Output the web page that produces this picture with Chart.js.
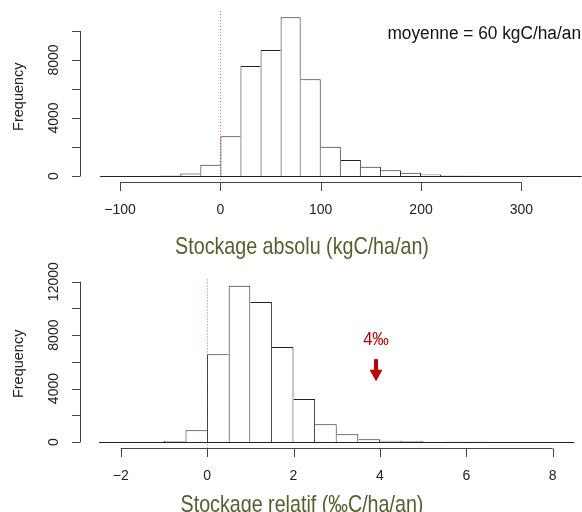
<!DOCTYPE html>
<html>
<head>
<meta charset="utf-8">
<script src="https://cdn.jsdelivr.net/npm/chart.js@4"></script>
<style>
  html, body { margin: 0; padding: 0; background: #fff; overflow: hidden; }
  #wrap { position: relative; width: 582px; height: 512px; }
  canvas { position: absolute; left: 0; top: 0; }
</style>
</head>
<body>
<div id="wrap">
  <canvas id="histo-absolu" width="582" height="512"></canvas>
  <canvas id="histo-relatif" width="582" height="512"></canvas>
</div>
<script>
// ── Stockage absolu (kgC/ha/an) ──────────────────────────────
const absBreaks = [-120,-100,-80,-60,-40,-20,0,20,40,60,80,100,120,140,160,180,200,220,240,260,280,300,320,340,360];
const absCounts = [0,0,5,40,170,780,2740,7590,8690,10950,6670,2020,1100,640,390,230,110,30,10,0,0,0,0,0];
const absTicksX = [-100,0,100,200,300];
const absTicksY = [0,2000,4000,6000,8000,10000];
const absLabelsY = ['0','','4000','','8000',''];

// ── Stockage relatif (‰C/ha/an) ──────────────────────────────
const relBreaks = [-2.5,-2,-1.5,-1,-0.5,0,0.5,1,1.5,2,2.5,3,3.5,4,4.5,5,5.5,6,6.5,7,7.5,8,8.5];
const relCounts = [0,0,5,80,880,6560,11700,10480,7110,3220,1320,580,200,90,50,25,15,10,5,0,0,0];
const relTicksX = [-2,0,2,4,6,8];
const relTicksY = [0,2000,4000,6000,8000,10000,12000];
const relLabelsY = ['0','','4000','','8000','','12000'];

const FONT  = "'Liberation Sans', Arial, sans-serif";
const VERT  = '#506229';
const ROUGE = '#c00000';

function histData(breaks, counts) {
  return counts.map((c, i) => ({ x: (breaks[i] + breaks[i + 1]) / 2, y: c }));
}

function fmtTick(v) {
  return v < 0 ? '\u2212' + Math.abs(v) : String(v);
}

// contour façon R : un seul trait entre deux barres voisines
function bordures(ctx) {
  const d = ctx.dataset.data, i = ctx.dataIndex, v = d[i].y;
  const prev = i > 0 ? d[i - 1].y : 0;
  const next = i < d.length - 1 ? d[i + 1].y : 0;
  return { top: 1, left: prev <= v ? 1 : 0, right: next < v ? 1 : 0, bottom: 0 };
}

// texte étroit (type Arial Narrow) : police normale compressée horizontalement
function texteEtroit(ctx, txt, x, by, taille, ratio, align) {
  ctx.save();
  ctx.translate(x, by);
  ctx.scale(ratio, 1);
  ctx.font = taille + 'px ' + FONT;
  ctx.textAlign = align || 'center';
  ctx.fillText(txt, 0, 0);
  ctx.restore();
}

const rStyle = {
  id: 'rStyle',
  beforeDatasetsDraw(chart, args, o) {
    const { ctx, chartArea: a, scales: { x } } = chart;
    // ligne pointillée rouge à zéro
    const x0 = Math.round(x.getPixelForValue(0)) + 0.5;
    ctx.save();
    ctx.strokeStyle = '#ff5a5a';
    ctx.lineWidth = 1;
    ctx.setLineDash([1, 2]);
    ctx.beginPath();
    ctx.moveTo(x0, a.top);
    ctx.lineTo(x0, a.bottom);
    ctx.stroke();
    ctx.restore();
  },
  afterDatasetsDraw(chart, args, o) {
    const { ctx, chartArea: a, scales: { x, y } } = chart;
    ctx.save();
    // ligne de base des classes vides
    const yb = Math.round(y.getPixelForValue(0)) + 0.5;
    ctx.strokeStyle = '#222';
    ctx.lineWidth = 1;
    ctx.beginPath();
    ctx.moveTo(x.getPixelForValue(o.breaks[0]), yb);
    ctx.lineTo(x.getPixelForValue(o.breaks[o.breaks.length - 1]), yb);
    ctx.stroke();

    // axe X
    ctx.strokeStyle = '#444';
    const ax = Math.round(a.bottom) + 0.5;
    ctx.beginPath();
    ctx.moveTo(x.getPixelForValue(o.ticksX[0]), ax);
    ctx.lineTo(x.getPixelForValue(o.ticksX[o.ticksX.length - 1]), ax);
    o.ticksX.forEach(t => {
      const px = Math.round(x.getPixelForValue(t)) + 0.5;
      ctx.moveTo(px, ax);
      ctx.lineTo(px, ax + 8.5);
    });
    ctx.stroke();
    ctx.fillStyle = '#222';
    ctx.font = '14px ' + FONT;
    ctx.textAlign = 'center';
    ctx.textBaseline = 'alphabetic';
    o.ticksX.forEach(t => ctx.fillText(fmtTick(t), x.getPixelForValue(t), ax + o.tickLabelDy));

    // axe Y
    const ay = Math.round(a.left) + 0.5;
    ctx.beginPath();
    ctx.moveTo(ay, y.getPixelForValue(o.ticksY[0]));
    ctx.lineTo(ay, y.getPixelForValue(o.ticksY[o.ticksY.length - 1]));
    o.ticksY.forEach(t => {
      const py = Math.round(y.getPixelForValue(t)) + 0.5;
      ctx.moveTo(ay, py);
      ctx.lineTo(ay - 8.5, py);
    });
    ctx.stroke();
    o.ticksY.forEach((t, i) => {
      if (!o.labelsY[i]) return;
      ctx.save();
      ctx.translate(ay - 26, y.getPixelForValue(t));
      ctx.rotate(-Math.PI / 2);
      ctx.textBaseline = 'middle';
      ctx.fillText(o.labelsY[i], 0, 0);
      ctx.restore();
    });
    ctx.save();
    ctx.translate(19, (a.top + a.bottom) / 2);
    ctx.rotate(-Math.PI / 2);
    ctx.font = '14.5px ' + FONT;
    ctx.textBaseline = 'middle';
    ctx.fillText('Frequency', 0, 0);
    ctx.restore();

    // titre de l'axe X
    ctx.fillStyle = VERT;
    texteEtroit(ctx, o.xTitle, 302, o.xTitleY, 24, 0.82);

    if (o.note) {
      ctx.fillStyle = '#111';
      texteEtroit(ctx, o.note, 581, 39, 18, 0.96, 'right');
    }
    if (o.fleche) {
      const f = o.fleche;
      const fx = x.getPixelForValue(f.x);
      ctx.fillStyle = ROUGE;
      texteEtroit(ctx, f.label, fx, y.getPixelForValue(f.yLabel), 18, 0.92);
      const yTop = y.getPixelForValue(f.yTop), yHead = y.getPixelForValue(f.yHead), yTip = y.getPixelForValue(f.yTip);
      ctx.fillRect(fx - 2, yTop, 4, yHead - yTop + 1);
      ctx.beginPath();
      ctx.moveTo(fx - 6.5, yHead);
      ctx.lineTo(fx + 6.5, yHead);
      ctx.lineTo(fx, yTip);
      ctx.closePath();
      ctx.fill();
    }
    ctx.restore();
  },
};

function creerHisto(id, breaks, counts, cadre, echelles, opts) {
  const ctx = document.getElementById(id).getContext('2d');
  return new Chart(ctx, {
    type: 'bar',
    data: {
      datasets: [{
        data: histData(breaks, counts),
        backgroundColor: '#ffffff',
        borderColor: '#222',
        borderWidth: bordures,
        borderSkipped: false,
        inflateAmount: 0,
        barPercentage: 1,
        categoryPercentage: 1,
      }],
    },
    options: {
      responsive: false, animation: false, devicePixelRatio: 1,
      layout: { padding: cadre },
      plugins: { legend: { display: false }, tooltip: { enabled: false }, rStyle: opts },
      scales: {
        x: { type: 'linear', display: false, offset: false, min: echelles.xmin, max: echelles.xmax },
        y: { type: 'linear', display: false, min: echelles.ymin, max: echelles.ymax },
      },
    },
    plugins: [rStyle],
  });
}

creerHisto('histo-absolu', absBreaks, absCounts,
  { left: 80, right: 0, top: 11, bottom: 512 - 182.3 },
  { xmin: -140, xmax: 360.5, ymin: -434, ymax: 11380 },
  { breaks: absBreaks, ticksX: absTicksX, ticksY: absTicksY, labelsY: absLabelsY,
    tickLabelDy: 31, xTitle: 'Stockage absolu (kgC/ha/an)', xTitleY: 254,
    note: 'moyenne = 60 kgC/ha/an' });

creerHisto('histo-relatif', relBreaks, relCounts,
  { left: 80, right: 0, top: 279.4, bottom: 512 - 448.3 },
  { xmin: -2.942, xmax: 8.678, ymin: -472, ymax: 12170 },
  { breaks: relBreaks, ticksX: relTicksX, ticksY: relTicksY, labelsY: relLabelsY,
    tickLabelDy: 31, xTitle: 'Stockage relatif (\u2030C/ha/an)', xTitleY: 512,
    fleche: { x: 3.91, label: '4\u2030', yLabel: 7250, yTop: 6200, yHead: 5400, yTip: 4550 } });
</script>
</body>
</html>
